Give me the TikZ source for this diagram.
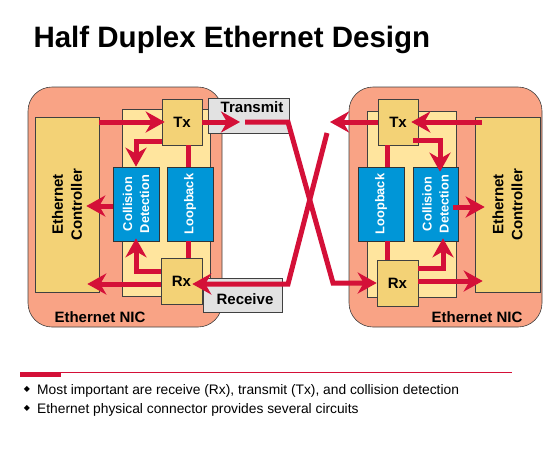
\documentclass[tikz,border=0pt]{standalone}
\usepackage{fontspec}
\setmainfont{Liberation Sans}
\newfontfamily\symfont{DejaVu Sans}
\usetikzlibrary{arrows.meta}
\usetikzlibrary{calc}
\definecolor{nicsalmon}{RGB}{249,163,133}
\definecolor{ctrlyellow}{RGB}{243,210,118}
\definecolor{panelyellow}{RGB}{255,229,158}
\definecolor{chipblue}{RGB}{0,150,215}
\definecolor{sigred}{RGB}{212,16,56}
\definecolor{labelgray}{RGB}{226,226,226}

\begin{document}
\begin{tikzpicture}[x=1pt, y=-1pt,
    box/.style={draw=black!75, line width=0.6pt, inner sep=0pt},
    nic/.style={box, fill=nicsalmon, rounded corners=24pt},
    ctrl/.style={box, fill=ctrlyellow},
    panel/.style={box, fill=panelyellow},
    chip/.style={box, fill=chipblue, draw=black!80},
    port/.style={box, fill=ctrlyellow, font=\bfseries\fontsize{15}{18}\selectfont},
    tag/.style={box, fill=labelgray},
    bold/.style={font=\bfseries\fontsize{15}{19}\selectfont, align=center},
    vert/.style={rotate=90, text=white, font=\bfseries\fontsize{12.8}{17}\selectfont, align=center},
    sig/.style={draw=sigred, line width=5pt, -{Stealth[length=19pt, width=21pt, inset=6pt]}},
    wire/.style={draw=sigred, line width=5pt}]
    \useasboundingbox (0, 0) rectangle (559, 459);

    \node [font=\bfseries\fontsize{29.5}{34}\selectfont, anchor=base west] (title) at (30, 47) {Half Duplex Ethernet Design};

    % left NIC
    \node [nic, minimum width=194pt, minimum height=240pt] (nicL) at (125, 207) {};
    \node [panel, minimum width=88pt, minimum height=187pt] (panelL) at (166, 202.5) {};
    \node [ctrl, minimum width=64pt, minimum height=175pt] (ctrlL) at (67, 204.5) {};
    \node [chip, minimum width=46pt, minimum height=74pt] (colL) at (136, 204) {};
    \node [chip, minimum width=46pt, minimum height=74pt] (loopL) at (190, 204) {};
    \node [port, minimum width=40pt, minimum height=46pt] (txL) at (182, 122) {Tx};
    \node [port, minimum width=41pt, minimum height=46pt] (rxL) at (181.5, 281) {Rx};
    \node [tag, minimum width=81pt, minimum height=35pt] (transmitL) at (248.5, 115.5) {};
    \node [tag, minimum width=79pt, minimum height=34pt] (receiveL) at (242.5, 295) {};

    \node [bold, rotate=90] (ctrlLtext) at (ctrlL) {Ethernet\\Controller};
    \node [vert] (colLtext) at (colL) {Collision\\Detection};
    \node [vert] (loopLtext) at (loopL) {Loopback};
    \node [bold] (transmitLtext) at (252, 107) {Transmit};
    \node [bold] (receiveLtext) at (245, 299) {Receive};
    \node [bold] (nicLtext) at (100, 317) {Ethernet NIC};

    % right NIC
    \node [nic, minimum width=193pt, minimum height=240pt] (nicR) at (445.5, 207) {};
    \node [panel, minimum width=89pt, minimum height=186pt] (panelR) at (411.5, 204) {};
    \node [ctrl, minimum width=65pt, minimum height=175pt] (ctrlR) at (507.5, 204.5) {};
    \node [chip, minimum width=46pt, minimum height=74pt] (loopR) at (381, 204) {};
    \node [chip, minimum width=45pt, minimum height=74pt] (colR) at (435.5, 204) {};
    \node [port, minimum width=40pt, minimum height=46pt] (txR) at (398, 122) {Tx};
    \node [port, minimum width=41pt, minimum height=46pt] (rxR) at (397.5, 283) {Rx};

    \node [bold, rotate=90] (ctrlRtext) at (ctrlR) {Ethernet\\Controller};
    \node [vert] (colRtext) at (colR) {Collision\\Detection};
    \node [vert] (loopRtext) at (loopR) {Loopback};
    \node [bold] (nicRtext) at (477, 317) {Ethernet NIC};

    % cable
    \coordinate (gapA) at (240, 122);
    \coordinate (gapB) at (245, 122);
    \coordinate (xa) at (288, 122);
    \coordinate (xb) at (333, 283);
    \coordinate (xc) at (288, 284);
    \coordinate (xd) at (327, 133);
    \coordinate (gapC) at (330, 122);

    % left signals
    \draw [sig] (ctrlL.east |- txL.west) -- ($(txL.west)+(3, 0)$);
    \draw [sig] ($(txL.south west)+(0, -4)$) -| (colL.north);
    \draw [wire] ($(loopL.north |- txL.south)+(-2, 0)$) -- ($(loopL.north)+(-2, 0)$);
    \draw [wire] ($(loopL.south)+(-2, 0)$) -- ($(loopL.south |- rxL.north)+(-2, 0)$);
    \draw [sig] ($(colL.west)+(0, 2)$) -- ($(colL.west -| ctrlL.east)+(-13, 2)$);
    \draw [sig] ($(rxL.west)+(0, -10)$) -| ($(colL.south)+(0, -3)$);
    \draw [sig] ($(rxL.west)+(0, 3)$) -- ($(rxL.west -| ctrlL.east)+(-12, 3)$);
    \draw [sig] (txL.east) -- (gapA);
    \draw [sig, line join=miter] (gapB) -- (xa) -- (xb) -- (rxR.west);
    \draw [sig, line join=miter] (xd) -- (xc) -- ($(rxL.east)+(-10, 3)$);

    % right signals
    \draw [sig] ($(ctrlR.west |- txR.east)+(7, 0)$) -- ($(txR.east)+(-7, 0)$);
    \draw [sig] (txR.west) -- (gapC);
    \draw [sig] ($(txR.south east)+(-5, -5)$) -| ($(colR.north)+(4.5, 5)$);
    \draw [wire] ($(loopR.north |- txR.south)+(6, 0)$) -- ($(loopR.north)+(6, 0)$);
    \draw [wire] ($(loopR.south)+(6, 0)$) -- ($(loopR.south |- rxR.north)+(6, 0)$);
    \draw [sig] ($(colR.east)+(-5, 3)$) -- ($(colR.east -| ctrlR.west)+(10, 3)$);
    \draw [sig] ($(rxR.east)+(0, -15)$) -| ($(colR.south)+(7.5, -3)$);
    \draw [sig] ($(rxR.east)+(0, -2)$) -- ($(rxR.east -| ctrlR.west)+(8, -2)$);

    % notes
    \fill [sigred] (20, 371.5) rectangle (512, 372.5);
    \fill [sigred] (20, 372) rectangle (61, 377);
    \node [font=\symfont\fontsize{8}{8}\selectfont] (dot1) at (27, 389) {◆};
    \node [font=\symfont\fontsize{8}{8}\selectfont] (dot2) at (27, 408) {◆};
    \node [font=\fontsize{13.8}{16}\selectfont, anchor=base west, inner sep=0pt] (note1) at (37, 394) {Most important are receive (Rx), transmit (Tx), and collision detection};
    \node [font=\fontsize{13.8}{16}\selectfont, anchor=base west, inner sep=0pt] (note2) at (37, 413) {Ethernet physical connector provides several circuits};
\end{tikzpicture}
\end{document}
